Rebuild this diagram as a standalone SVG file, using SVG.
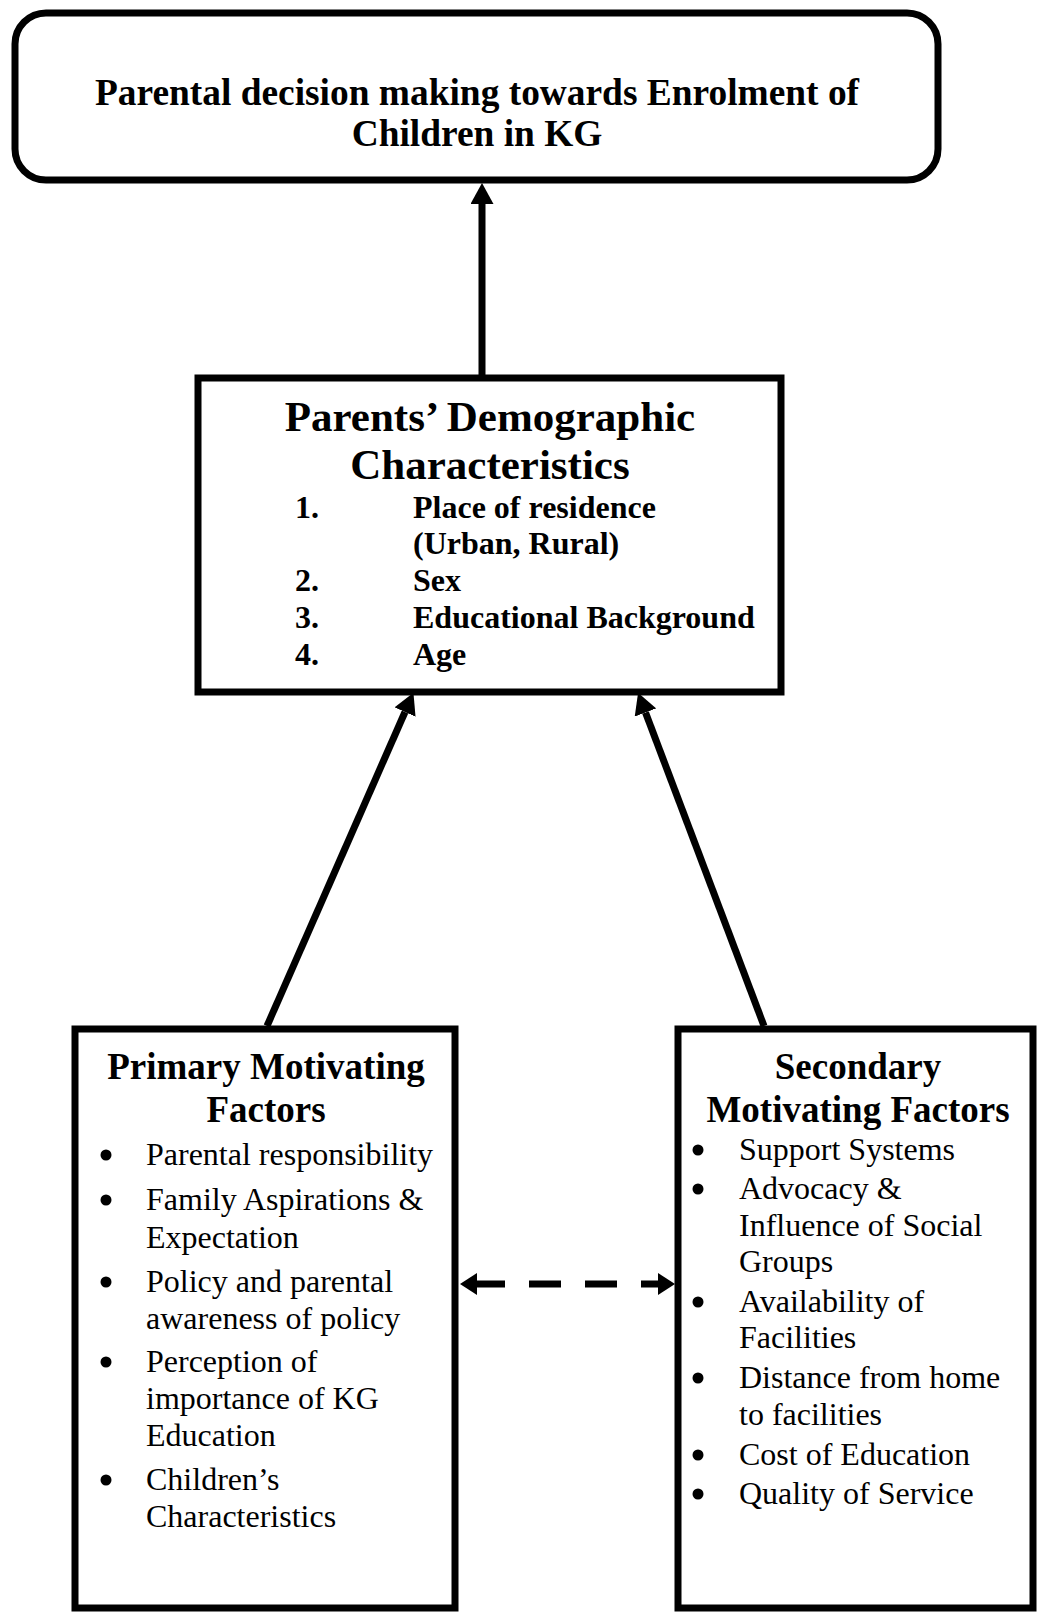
<svg xmlns="http://www.w3.org/2000/svg" width="1039" height="1612" viewBox="0 0 1039 1612">
<style>
.box{fill:#fff;stroke:#000;stroke-width:7}
.t{font-family:"Liberation Serif","Times New Roman",serif;fill:#000}
.b{font-weight:bold}
.title{font-size:37.4px;font-weight:bold;text-anchor:middle}
.h1{font-size:43px;font-weight:bold;text-anchor:middle}
.h2{font-size:37px;font-weight:bold;text-anchor:middle}
.li{font-size:32px}
.con{stroke:#000;stroke-width:7;fill:none}
.dash{stroke:#000;stroke-width:7;fill:none;stroke-dasharray:32 24;stroke-dashoffset:4}
</style>
<defs>
<marker id="ah" viewBox="0 0 21 23" refX="0" refY="11.5" markerWidth="21" markerHeight="23" markerUnits="userSpaceOnUse" orient="auto">
<path d="M0,0 L21,11.5 L0,23 z" fill="#000"/>
</marker>
<marker id="ah2" viewBox="0 0 17 22" refX="0" refY="11" markerWidth="17" markerHeight="22" markerUnits="userSpaceOnUse" orient="auto">
<path d="M0,0 L17,11 L0,22 z" fill="#000"/>
</marker>
<marker id="ah2s" viewBox="0 0 17 22" refX="17" refY="11" markerWidth="17" markerHeight="22" markerUnits="userSpaceOnUse" orient="auto">
<path d="M17,0 L0,11 L17,22 z" fill="#000"/>
</marker>
</defs>

<g id="connectors">
<line class="con" x1="482" y1="375" x2="482" y2="204" marker-end="url(#ah)"/>
<line class="con" x1="267" y1="1026" x2="405" y2="712" marker-end="url(#ah)"/>
<line class="con" x1="764" y1="1026" x2="645.5" y2="712.5" marker-end="url(#ah)"/>
<line class="dash" x1="477" y1="1284" x2="658" y2="1284" marker-start="url(#ah2s)" marker-end="url(#ah2)"/>
</g>

<g id="node-decision">
<rect class="box" x="15" y="13" width="923" height="167" rx="31" ry="31"/>
<text class="t title" x="477" y="105">Parental decision making towards Enrolment of</text>
<text class="t title" x="477" y="146">Children in KG</text>
</g>

<g id="node-demographic">
<rect class="box" x="198" y="378" width="583" height="314"/>
<text class="t h1" x="490" y="431">Parents’ Demographic</text>
<text class="t h1" x="490" y="479">Characteristics</text>
<g class="t b li">
<text x="295" y="518">1.</text><text x="413" y="518">Place of residence</text>
<text x="413" y="554">(Urban, Rural)</text>
<text x="295" y="591">2.</text><text x="413" y="591">Sex</text>
<text x="295" y="628">3.</text><text x="413" y="628">Educational Background</text>
<text x="295" y="665">4.</text><text x="413" y="665">Age</text>
</g>
</g>

<g id="node-primary">
<rect class="box" x="75" y="1029" width="380" height="579"/>
<text class="t h2" x="266" y="1079">Primary Motivating</text>
<text class="t h2" x="266" y="1122">Factors</text>
<g fill="#000">
<circle cx="106" cy="1155" r="5.5"/>
<circle cx="106" cy="1200" r="5.5"/>
<circle cx="106" cy="1282" r="5.5"/>
<circle cx="106" cy="1362" r="5.5"/>
<circle cx="106" cy="1480" r="5.5"/>
</g>
<g class="t li">
<text x="146" y="1165">Parental responsibility</text>
<text x="146" y="1210">Family Aspirations &amp;</text>
<text x="146" y="1248">Expectation</text>
<text x="146" y="1292">Policy and parental</text>
<text x="146" y="1329">awareness of policy</text>
<text x="146" y="1372">Perception of</text>
<text x="146" y="1409">importance of KG</text>
<text x="146" y="1446">Education</text>
<text x="146" y="1490">Children’s</text>
<text x="146" y="1527">Characteristics</text>
</g>
</g>

<g id="node-secondary">
<rect class="box" x="678" y="1029" width="355" height="579"/>
<text class="t h2" x="858" y="1079">Secondary</text>
<text class="t h2" x="858" y="1122">Motivating Factors</text>
<g fill="#000">
<circle cx="698" cy="1150" r="5.5"/>
<circle cx="698" cy="1189" r="5.5"/>
<circle cx="698" cy="1302" r="5.5"/>
<circle cx="698" cy="1378" r="5.5"/>
<circle cx="698" cy="1455" r="5.5"/>
<circle cx="698" cy="1494" r="5.5"/>
</g>
<g class="t li">
<text x="739" y="1160">Support Systems</text>
<text x="739" y="1199">Advocacy &amp;</text>
<text x="739" y="1236">Influence of Social</text>
<text x="739" y="1272">Groups</text>
<text x="739" y="1312">Availability of</text>
<text x="739" y="1348">Facilities</text>
<text x="739" y="1388">Distance from home</text>
<text x="739" y="1425">to facilities</text>
<text x="739" y="1465">Cost of Education</text>
<text x="739" y="1504">Quality of Service</text>
</g>
</g>
</svg>
